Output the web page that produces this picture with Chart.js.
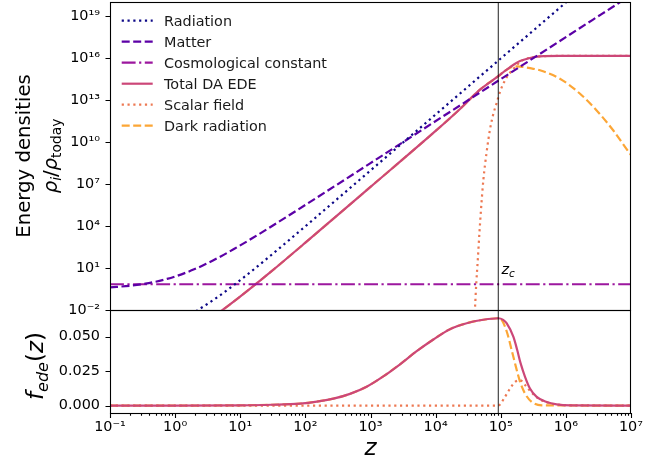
<!DOCTYPE html>
<html><head><meta charset="utf-8">
<script src="https://cdn.jsdelivr.net/npm/chart.js@4.4.1/dist/chart.umd.min.js"></script>
<style>
html,body{margin:0;padding:0;background:#fff;}
#wrap{position:relative;width:667px;height:470px;background:#fff;}
canvas{position:absolute;left:0;top:0;}
</style></head><body>
<div id="wrap"><canvas id="bot" width="667" height="470"></canvas><canvas id="top" width="667" height="470"></canvas></div>
<script>
// ---------- data ----------
const zc = 9.17e4;
const labels = ['Radiation','Matter','Cosmological constant','Total DA EDE','Scalar field','Dark radiation'];

const radZ   = [1, 2, 2.5, 3, 4, 5, 6, 8, 10, 15, 20, 30, 50, 100, 1e3, 1e4, 1e5, 1e6, 2e6];
const radRho = [1.47e-3, 7.45e-3, 0.0138, 0.0236, 0.0575, 0.119, 0.221, 0.604, 1.35, 6.03, 17.9, 85, 623, 9.57e3, 9.24e7, 9.2e11, 9.2e15, 9.2e19, 1.47e21];

const matZ   = [0.1, 0.2, 0.35, 0.5, 0.75, 1, 1.5, 2, 3, 5, 8, 15, 30, 100, 1e3, 1e7];
const matRho = [0.413, 0.536, 0.763, 1.046, 1.661, 2.48, 4.84, 8.37, 19.8, 67, 226, 1270, 9235, 3.19e5, 3.11e8, 3.1e20];

const ccZ   = [0.1, 1e7];
const ccRho = [0.69, 0.69];

const edeZ   = [1, 2, 3, 5, 8, 15, 30, 100, 1e3, 1e4, 2.37e4, 4.8e4, 9.17e4, 1.16e5, 1.39e5, 1.66e5, 1.98e5, 2.81e5, 4.0e5, 8.1e5, 1e7];
const edeRho = [9.9e-5, 5.0e-4, 1.6e-3, 8.0e-3, 0.041, 0.41, 5.7, 645, 6.2e6, 6.2e10, 2.3e12, 5.5e13, 5.0e14, 1.2e15, 2.2e15, 3.9e15, 6.0e15, 1.0e16, 1.3e16, 1.4e16, 1.4e16];

const sfZ   = [3.9e4, 4.03e4, 4.22e4, 4.43e4, 4.69e4, 4.98e4, 5.41e4, 6.08e4, 6.84e4, 7.69e4, 8.67e4, 9.77e4, 1.16e5, 1.39e5, 1.66e5, 2.0e5, 2.82e5, 3.98e5, 7.9e5, 1e7];
const sfRho = [1e-3, 0.016, 1.0, 32, 2.5e3, 1.6e5, 2e7, 2e9, 8e10, 1e12, 6.3e12, 4e13, 2.5e14, 8.9e14, 2.2e15, 5.6e15, 1.05e16, 1.32e16, 1.4e16, 1.4e16];

const drZ   = [1, 2, 3, 5, 8, 15, 30, 100, 1e3, 1e4, 2.37e4, 4.8e4, 9.17e4, 1.1e5, 1.39e5, 1.66e5, 2.0e5, 2.82e5, 4.0e5, 8.1e5, 1.65e6, 2.97e6, 5.36e6, 9.66e6, 1e7];
const drRho = [9.9e-5, 5.0e-4, 1.6e-3, 8.0e-3, 0.041, 0.41, 5.7, 645, 6.2e6, 6.2e10, 2.3e12, 5.5e13, 5.0e14, 1.0e15, 2.0e15, 2.5e15, 2.4e15, 1.9e15, 1.32e15, 3.3e14, 2.8e13, 1.8e12, 6.6e10, 1.45e9, 1.2e9];

// bottom panel: f_ede(z)
const fTotZ = [0.1, 1, 10, 30, 82.6, 150, 269, 484, 871, 1573, 2840, 5117, 9230, 1.66e4, 3.0e4, 5.4e4, 9.17e4, 1.09e5, 1.23e5, 1.56e5, 1.79e5, 2.02e5, 2.36e5, 2.81e5, 3.56e5, 5.07e5, 7.2e5, 1.2e6, 1e7];
const fTot  = [0, 0.00001, 0.0002, 0.0006, 0.0014, 0.0028, 0.0050, 0.0085, 0.0137, 0.0212, 0.0300, 0.0395, 0.0480, 0.0555, 0.0598, 0.0623, 0.0634, 0.0622, 0.0598, 0.050, 0.0403, 0.0306, 0.0209, 0.0124, 0.0063, 0.0026, 0.0009, 0.0002, 0];

const fSfZ = [0.1, 9.17e4, 1.16e5, 1.39e5, 1.66e5, 1.98e5, 2.36e5, 2.81e5, 3.56e5, 4.9e5, 7.2e5, 1.2e6, 1e7];
const fSf  = [0, 0, 0.0063, 0.0124, 0.0172, 0.0184, 0.0150, 0.0108, 0.0060, 0.0026, 0.0008, 0.0002, 0];

const fDrZ = [0.1, 1, 10, 30, 82.6, 150, 269, 484, 871, 1573, 2840, 5117, 9230, 1.66e4, 3.0e4, 5.4e4, 9.17e4, 1.035e5, 1.26e5, 1.47e5, 1.71e5, 1.98e5, 2.36e5, 2.99e5, 4.27e5, 1e7];
const fDr  = [0, 0.00001, 0.0002, 0.0006, 0.0014, 0.0028, 0.0050, 0.0085, 0.0137, 0.0212, 0.0300, 0.0395, 0.0480, 0.0555, 0.0598, 0.0623, 0.0634, 0.0622, 0.0525, 0.0403, 0.0281, 0.0172, 0.0087, 0.0026, 0.0002, 0];

// ticks
const xTicks    = [0.1, 1, 10, 100, 1e3, 1e4, 1e5, 1e6, 1e7];
const yTopTicks = [1e-2, 1e1, 1e4, 1e7, 1e10, 1e13, 1e16, 1e19];
const yBotTicks = [0, 0.025, 0.05];

// ---------- styles ----------
const C = {rad:'#0d0887', mat:'#5c01a6', cc:'#9c179e', ede:'#cc4778', sf:'#ed7953', dr:'#fca636'};
const LW = 2.2;
const DOT = [2.2, 3.6], DASH = [8, 3.5], DASHDOT = [13.9, 3.5, 2.2, 3.5];
const FONT = '"DejaVu Sans", sans-serif';

const pts = (xs, ys) => xs.map((x, i) => ({x, y: ys[i]}));
const SUP = {'-':'\u207B','0':'\u2070','1':'\u00B9','2':'\u00B2','3':'\u00B3','4':'\u2074','5':'\u2075','6':'\u2076','7':'\u2077','8':'\u2078','9':'\u2079'};
const pow10 = v => '10' + String(Math.round(Math.log10(v))).split('').map(c => SUP[c]).join('');

function ds(label, data, color, dash, order) {
  return {label, data, borderColor: color, backgroundColor: color, borderDash: dash, borderWidth: LW,
          pointRadius: 0, fill: false, cubicInterpolationMode: 'monotone', order, clip: 0};
}
function vline(yLo, yHi) {
  return {label: 'zc', data: [{x: zc, y: yLo}, {x: zc, y: yHi}], borderColor: 'rgba(0,0,0,0.8)', borderWidth: 1.1,
          pointRadius: 0, fill: false, order: 0, clip: 0};
}

function drawRich(ctx, parts, x, y, align) {
  let w = 0;
  for (const p of parts) { ctx.font = (p.it ? 'italic ' : '') + p.s + 'px ' + FONT; w += ctx.measureText(p.t).width; }
  let cx = align === 'center' ? x - w / 2 : x;
  for (const p of parts) {
    ctx.font = (p.it ? 'italic ' : '') + p.s + 'px ' + FONT;
    ctx.fillText(p.t, cx, y + (p.dy || 0));
    cx += ctx.measureText(p.t).width;
  }
}

const frame = {
  id: 'frame',
  afterDraw(chart) {
    const {ctx, chartArea: a} = chart;
    ctx.save();
    ctx.strokeStyle = '#000'; ctx.lineWidth = 1.1; ctx.setLineDash([]);
    ctx.strokeRect(a.left + 0.5, a.top + 0.5, a.right - a.left - 1, a.bottom - a.top);
    const ys = chart.scales.y;
    ctx.beginPath();
    for (const t of ys.ticks) { const p = Math.round(ys.getPixelForValue(t.value)) + 0.5; ctx.moveTo(a.left - 4.5, p); ctx.lineTo(a.left + 0.5, p); }
    ctx.stroke();
    ctx.restore();
  }
};

// ---------- top chart ----------
const topPlugin = {
  id: 'topExtras',
  afterDraw(chart) {
    const ctx = chart.ctx;
    ctx.save();
    ctx.fillStyle = '#000';
    ctx.textBaseline = 'alphabetic';
    const items = [[labels[0], C.rad, DOT], [labels[1], C.mat, DASH], [labels[2], C.cc, DASHDOT],
                   [labels[3], C.ede, []], [labels[4], C.sf, DOT], [labels[5], C.dr, DASH]];
    items.forEach((it, i) => {
      const y = 20.7 + 21 * i;
      ctx.strokeStyle = it[1]; ctx.lineWidth = LW; ctx.setLineDash(it[2]);
      ctx.beginPath(); ctx.moveTo(121.7, y); ctx.lineTo(152.7, y); ctx.stroke();
      ctx.font = '14.4px ' + FONT; ctx.fillStyle = '#1a1a1a';
      ctx.fillText(it[0], 164, y + 5.2);
    });
    ctx.setLineDash([]);
    ctx.fillStyle = '#000';
    drawRich(ctx, [{t: 'z', s: 14.4, it: true}, {t: 'c', s: 10.5, it: true, dy: 2.5}], 501.5, 274, 'left');
    ctx.save(); ctx.translate(30, 156); ctx.rotate(-Math.PI / 2);
    drawRich(ctx, [{t: 'Energy densities', s: 19.7}], 0, 0, 'center');
    ctx.restore();
    ctx.save(); ctx.translate(57, 156); ctx.rotate(-Math.PI / 2);
    drawRich(ctx, [{t: '\u03C1', s: 19.7, it: true}, {t: 'i', s: 13.8, it: true, dy: 4}, {t: '/', s: 19.7},
                   {t: '\u03C1', s: 19.7, it: true}, {t: 'today', s: 13.8, dy: 4}], 0, 0, 'center');
    ctx.restore();
    ctx.restore();
  }
};

new Chart(document.getElementById('top'), {
  type: 'line',
  data: {datasets: [
    vline(1e-3, 1e21),
    ds(labels[0], pts(radZ, radRho), C.rad, DOT, 1),
    ds(labels[1], pts(matZ, matRho), C.mat, DASH, 2),
    ds(labels[2], pts(ccZ, ccRho), C.cc, DASHDOT, 3),
    ds(labels[3], pts(edeZ, edeRho), C.ede, [], 4),
    ds(labels[4], pts(sfZ, sfRho), C.sf, DOT, 5),
    ds(labels[5], pts(drZ, drRho), C.dr, DASH, 6)
  ]},
  options: {
    responsive: false, animation: false, devicePixelRatio: 1,
    layout: {padding: {left: 0, right: 36, top: 2, bottom: 160}},
    plugins: {legend: {display: false}, tooltip: {enabled: false}},
    scales: {
      x: {type: 'logarithmic', min: 0.1, max: 1e7, display: false},
      y: {type: 'logarithmic', min: 1e-2, max: 1e20,
          grid: {display: false, drawTicks: false}, border: {display: false},
          ticks: {padding: 10, color: '#000', font: {family: FONT, size: 14.4}, callback: v => pow10(v), autoSkip: false},
          afterBuildTicks: s => { s.ticks = yTopTicks.map(v => ({value: v})); },
          afterFit: s => { s.width = 110; s.paddingTop = 0; s.paddingBottom = 0; }}
    }
  },
  plugins: [frame, topPlugin]
});

// ---------- bottom chart ----------
const botPlugin = {
  id: 'botExtras',
  afterDraw(chart) {
    const {ctx, chartArea: a} = chart;
    const xs = chart.scales.x;
    ctx.save();
    ctx.strokeStyle = '#000'; ctx.lineWidth = 1.1; ctx.setLineDash([]);
    ctx.beginPath();
    for (let k = -1; k <= 7; k++) {
      for (let m = 1; m <= 9; m++) {
        const v = m * Math.pow(10, k);
        if (v > 1e7 * 1.0001) break;
        const p = Math.round(xs.getPixelForValue(v)) + 0.5;
        const len = m === 1 ? 5 : 2.8;
        ctx.moveTo(p, a.bottom); ctx.lineTo(p, a.bottom + len);
      }
    }
    ctx.stroke();
    ctx.fillStyle = '#000'; ctx.textBaseline = 'alphabetic';
    drawRich(ctx, [{t: 'z', s: 23, it: true}], (a.left + a.right) / 2, 455, 'center');
    ctx.save(); ctx.translate(43, 366); ctx.rotate(-Math.PI / 2);
    drawRich(ctx, [{t: 'f', s: 23, it: true}, {t: 'ede', s: 16, it: true, dy: 5}, {t: '(', s: 23},
                   {t: 'z', s: 23, it: true}, {t: ')', s: 23}], 0, 0, 'center');
    ctx.restore();
    ctx.restore();
  }
};

new Chart(document.getElementById('bot'), {
  type: 'line',
  data: {datasets: [
    vline(-1, 1),
    ds(labels[3], pts(fTotZ, fTot), C.ede, [], 4),
    ds(labels[4], pts(fSfZ, fSf), C.sf, DOT, 5),
    ds(labels[5], pts(fDrZ, fDr), C.dr, DASH, 6)
  ]},
  options: {
    responsive: false, animation: false, devicePixelRatio: 1,
    layout: {padding: {left: 0, right: 36, top: 310, bottom: 0}},
    plugins: {legend: {display: false}, tooltip: {enabled: false}},
    scales: {
      x: {type: 'logarithmic', min: 0.1, max: 1e7,
          grid: {display: false, drawTicks: false}, border: {display: false},
          ticks: {padding: 6, color: '#000', font: {family: FONT, size: 14.4}, autoSkip: false, maxRotation: 0, minRotation: 0,
                  callback: v => pow10(v)},
          afterBuildTicks: s => { s.ticks = xTicks.map(v => ({value: v})); },
          afterFit: s => { s.height = 57; s.paddingLeft = 0; s.paddingRight = 0; }},
      y: {type: 'linear', min: -0.0054, max: 0.0694,
          grid: {display: false, drawTicks: false}, border: {display: false},
          ticks: {padding: 10, color: '#000', font: {family: FONT, size: 14.4}, callback: v => v.toFixed(3), autoSkip: false},
          afterBuildTicks: s => { s.ticks = yBotTicks.map(v => ({value: v})); },
          afterFit: s => { s.width = 110; s.paddingTop = 0; s.paddingBottom = 0; }}
    }
  },
  plugins: [frame, botPlugin]
});
</script>
</body></html>
